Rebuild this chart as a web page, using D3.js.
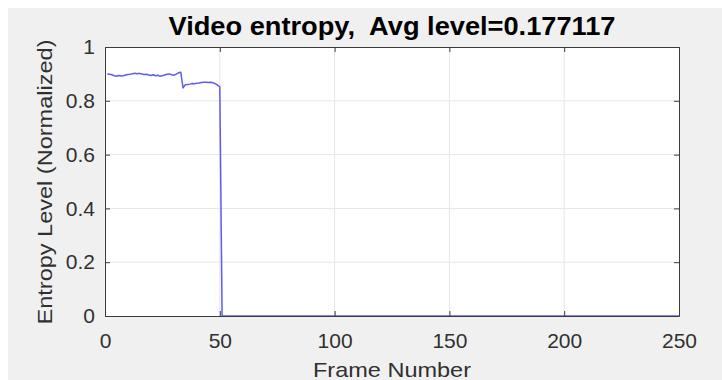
<!DOCTYPE html>
<html>
<head>
<meta charset="utf-8">
<script src="https://cdn.jsdelivr.net/npm/d3@7"></script>
<style>
  html, body { margin: 0; padding: 0; background: #ffffff; }
  svg { display: block; }
  text { font-family: "Liberation Sans", Arial, Helvetica, sans-serif; }
</style>
</head>
<body>
<svg id="chart" width="722" height="380"></svg>
<script>
// Normalized entropy for frames 1..50; frames 51..250 are zero.
const activeEntropy = [
  0.900, 0.899, 0.897, 0.893, 0.891, 0.894, 0.892, 0.893, 0.896, 0.898,
  0.899, 0.901, 0.902, 0.901, 0.902, 0.900, 0.898, 0.899, 0.896, 0.894,
  0.897, 0.893, 0.895, 0.891, 0.893, 0.896, 0.899, 0.900, 0.897, 0.895,
  0.899, 0.904, 0.906, 0.848, 0.860, 0.861, 0.862, 0.864, 0.863, 0.865,
  0.866, 0.868, 0.869, 0.869, 0.868, 0.869, 0.867, 0.864, 0.858, 0.852
];
const frameCount = 250;
const xTicks = [0, 50, 100, 150, 200, 250];
const yTicks = [0, 0.2, 0.4, 0.6, 0.8, 1];
const yTickLabels = ["0", "0.2", "0.4", "0.6", "0.8", "1"];
const titleText = "Video entropy,  Avg level=0.177117";
const xLabel = "Frame Number";
const yLabel = "Entropy Level (Normalized)";

const frames = d3.range(1, frameCount + 1);
const entropy = frames.map(f => f <= activeEntropy.length ? activeEntropy[f - 1] : 0);

const svg = d3.select("#chart");
const W = 722, H = 380;
const plot = { left: 105, right: 679, top: 47, bottom: 316 };

// figure background
svg.append("rect").attr("x", 8).attr("y", 8).attr("width", W - 8).attr("height", H - 8)
  .attr("fill", "#f0f0f0");

const x = d3.scaleLinear().domain([0, 250]).range([plot.left, plot.right]);
const y = d3.scaleLinear().domain([0, 1]).range([plot.bottom, plot.top]);

// axes area
svg.append("rect")
  .attr("x", plot.left).attr("y", plot.top)
  .attr("width", plot.right - plot.left).attr("height", plot.bottom - plot.top)
  .attr("fill", "#ffffff");

// grid
const grid = svg.append("g").attr("stroke", "#e6e6e6").attr("stroke-width", 1);
grid.selectAll(".gx").data(xTicks.slice(1, -1)).join("line")
  .attr("x1", d => x(d)).attr("x2", d => x(d))
  .attr("y1", plot.top).attr("y2", plot.bottom);
grid.selectAll(".gy").data(yTicks.slice(1, -1)).join("line")
  .attr("x1", plot.left).attr("x2", plot.right)
  .attr("y1", d => y(d)).attr("y2", d => y(d));

// data line
const line = d3.line().x((d, i) => x(frames[i])).y(d => y(d));
svg.append("path")
  .datum(entropy)
  .attr("d", line)
  .attr("fill", "none")
  .attr("stroke", "#5c5cf0")
  .attr("stroke-width", 1.5)
  .attr("stroke-linejoin", "round");

// axes with inward ticks, boxed
const axisColor = "#3c3c3c";
const tickLen = 5;
function styleAxis(g) {
  g.select(".domain").attr("stroke", axisColor).attr("stroke-width", 1);
  g.selectAll(".tick line").attr("stroke", axisColor);
  g.selectAll(".tick text").attr("fill", "#303030").attr("font-size", 21)
    .attr("font-family", "Liberation Sans, Arial, sans-serif");
}
const xAxisB = d3.axisBottom(x).tickValues(xTicks).tickSizeInner(-tickLen).tickSizeOuter(0)
  .tickFormat(d3.format("d"));
svg.append("g").attr("transform", `translate(0,${plot.bottom})`).call(xAxisB).call(styleAxis)
  .selectAll(".tick text").attr("y", 32).attr("dy", 0);
const xAxisT = d3.axisTop(x).tickValues(xTicks).tickSizeInner(-tickLen).tickSizeOuter(0).tickFormat("");
svg.append("g").attr("transform", `translate(0,${plot.top})`).call(xAxisT).call(styleAxis);

const yAxisL = d3.axisLeft(y).tickValues(yTicks).tickSizeInner(-tickLen).tickSizeOuter(0)
  .tickPadding(10).tickFormat((d, i) => yTickLabels[i]);
svg.append("g").attr("transform", `translate(${plot.left},0)`).call(yAxisL).call(styleAxis);
const yAxisR = d3.axisRight(y).tickValues(yTicks).tickSizeInner(-tickLen).tickSizeOuter(0).tickFormat("");
svg.append("g").attr("transform", `translate(${plot.right},0)`).call(yAxisR).call(styleAxis);

// title and labels
svg.append("text")
  .attr("x", (plot.left + plot.right) / 2).attr("y", 35)
  .attr("text-anchor", "middle").attr("font-size", 25).attr("font-weight", "bold")
  .attr("fill", "#000").attr("textLength", 447).attr("lengthAdjust", "spacingAndGlyphs")
  .style("white-space", "pre")
  .text(titleText);

svg.append("text")
  .attr("x", (plot.left + plot.right) / 2).attr("y", 377)
  .attr("text-anchor", "middle").attr("font-size", 21).attr("fill", "#303030")
  .attr("textLength", 158).attr("lengthAdjust", "spacingAndGlyphs")
  .text(xLabel);

svg.append("text")
  .attr("transform", `translate(52,182) rotate(-90)`)
  .attr("text-anchor", "middle").attr("font-size", 21).attr("fill", "#303030")
  .attr("textLength", 285).attr("lengthAdjust", "spacingAndGlyphs")
  .text(yLabel);
</script>
</body>
</html>
